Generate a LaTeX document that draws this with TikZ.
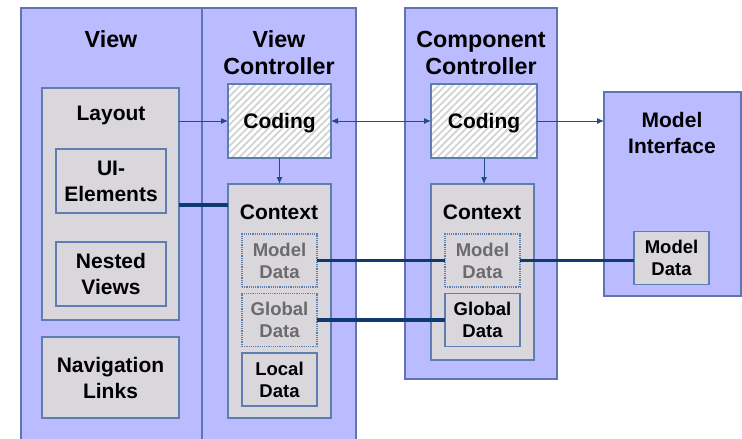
\documentclass[tikz,border=0pt]{standalone}
\usepackage{fontspec}
\setmainfont{Liberation Sans}
\usetikzlibrary{arrows.meta,patterns.meta}
\definecolor{panelFill}{HTML}{BBBBFF}
\definecolor{panelLine}{HTML}{6074B4}
\definecolor{boxFill}{HTML}{D9D7DB}
\definecolor{boxLine}{HTML}{5D7EAE}
\definecolor{linkBlue}{HTML}{1F4E80}
\definecolor{wireBlue}{HTML}{0E3A6E}
\definecolor{hatchGray}{HTML}{D2D2D2}
\definecolor{dimText}{HTML}{6B6B6B}

\begin{document}
\begin{tikzpicture}[x=1pt,y=-1pt,>={Latex[length=7pt,width=6pt]},
  font=\bfseries\fontsize{21}{26}\selectfont,
  panel/.style={draw=panelLine,fill=panelFill,line width=1.2pt,outer sep=0pt,inner sep=0pt},
  box/.style={draw=boxLine,fill=boxFill,line width=1.2pt,outer sep=0pt,inner sep=0pt,align=center},
  codebox/.style={draw=boxLine,line width=1.2pt,outer sep=0pt,inner sep=0pt,text depth=0pt,
    preaction={fill=white},pattern={Lines[angle=45,distance=5pt,line width=1.8pt]},pattern color=hatchGray},
  databox/.style={box,minimum width=75,minimum height=53,font=\bfseries\fontsize{18.5}{22}\selectfont},
  ghostbox/.style={databox,densely dotted,text=dimText},
  head/.style={align=center,inner sep=0pt,font=\bfseries\fontsize{23.3}{27}\selectfont},
  title/.style={align=center,inner sep=0pt},
  link/.style={->,draw=linkBlue,line width=1pt},
  wire/.style={draw=wireBlue,line width=3.2pt}]
  \useasboundingbox (0,0) rectangle (742,439);
  \clip (0,0) rectangle (742,439);
  % panels
  \node[panel,minimum width=181,minimum height=437] (view) at (111.5,226.5) {};
  \node[panel,minimum width=154,minimum height=437] (viewCtrl) at (279,226.5) {};
  \node[panel,minimum width=152,minimum height=371] (compCtrl) at (481,193.5) {};
  \node[panel,minimum width=137,minimum height=204] (modelIf) at (672.5,194) {};
  \node[head] (viewT) at (111,39) {View};
  \node[head] (viewCtrlT) at (279,53) {View\\Controller};
  \node[head] (compCtrlT) at (481,53) {Component\\Controller};
  \node[title] (modelIfT) at (672,133) {Model\\Interface};
  % view
  \node[box,minimum width=137,minimum height=232] (layout) at (110.5,204) {};
  \node[title] (layoutT) at (111,115) {Layout};
  \node[box,minimum width=110,minimum height=64] (uiElems) at (111,181) {UI-\\Elements};
  \node[box,minimum width=110,minimum height=64] (nested) at (111,274) {Nested\\Views};
  \node[box,minimum width=137,minimum height=81] (navLinks) at (110.5,377.5) {Navigation\\Links};
  % view controller
  \node[codebox,minimum width=103,minimum height=74] (vcCoding) at (279.5,121) {Coding};
  \node[box,minimum width=103,minimum height=234] (vcContext) at (279.5,301) {};
  \node[title] (vcContextT) at (279,212) {Context};
  \node[ghostbox] (vcModel) at (279.5,260.5) {Model\\Data};
  \node[ghostbox] (vcGlobal) at (279.5,320) {Global\\Data};
  \node[databox] (vcLocal) at (279.5,379.5) {Local\\Data};
  % component controller
  \node[codebox,minimum width=106,minimum height=74] (ccCoding) at (484,121) {Coding};
  \node[box,minimum width=103,minimum height=176] (ccContext) at (482.5,272) {};
  \node[title] (ccContextT) at (482,212) {Context};
  \node[ghostbox] (ccModel) at (482.5,260.5) {Model\\Data};
  \node[databox] (ccGlobal) at (482.5,320) {Global\\Data};
  % model interface
  \node[databox] (miModel) at (671.5,258) {Model\\Data};
  % connectors
  \draw[link] (vcCoding.west -| layout.east) -- (vcCoding.west);
  \draw[link,<->] (vcCoding.east) -- (ccCoding.west);
  \draw[link] (ccCoding.east) -- (ccCoding.east -| modelIf.west);
  \draw[link] (vcCoding.south) -- (vcContext.north);
  \draw[link] (ccCoding.south) -- (ccCoding.south |- ccContext.north);
  \coordinate (uiLink) at (179,205);
  \draw[wire] (uiLink) -- (uiLink -| vcContext.west);
  \draw[wire] (vcModel.east) -- (ccModel.west);
  \draw[wire] (vcGlobal.east) -- (ccGlobal.west);
  \draw[wire] (ccModel.east) -- (ccModel.east -| miModel.west);
\end{tikzpicture}
\end{document}
